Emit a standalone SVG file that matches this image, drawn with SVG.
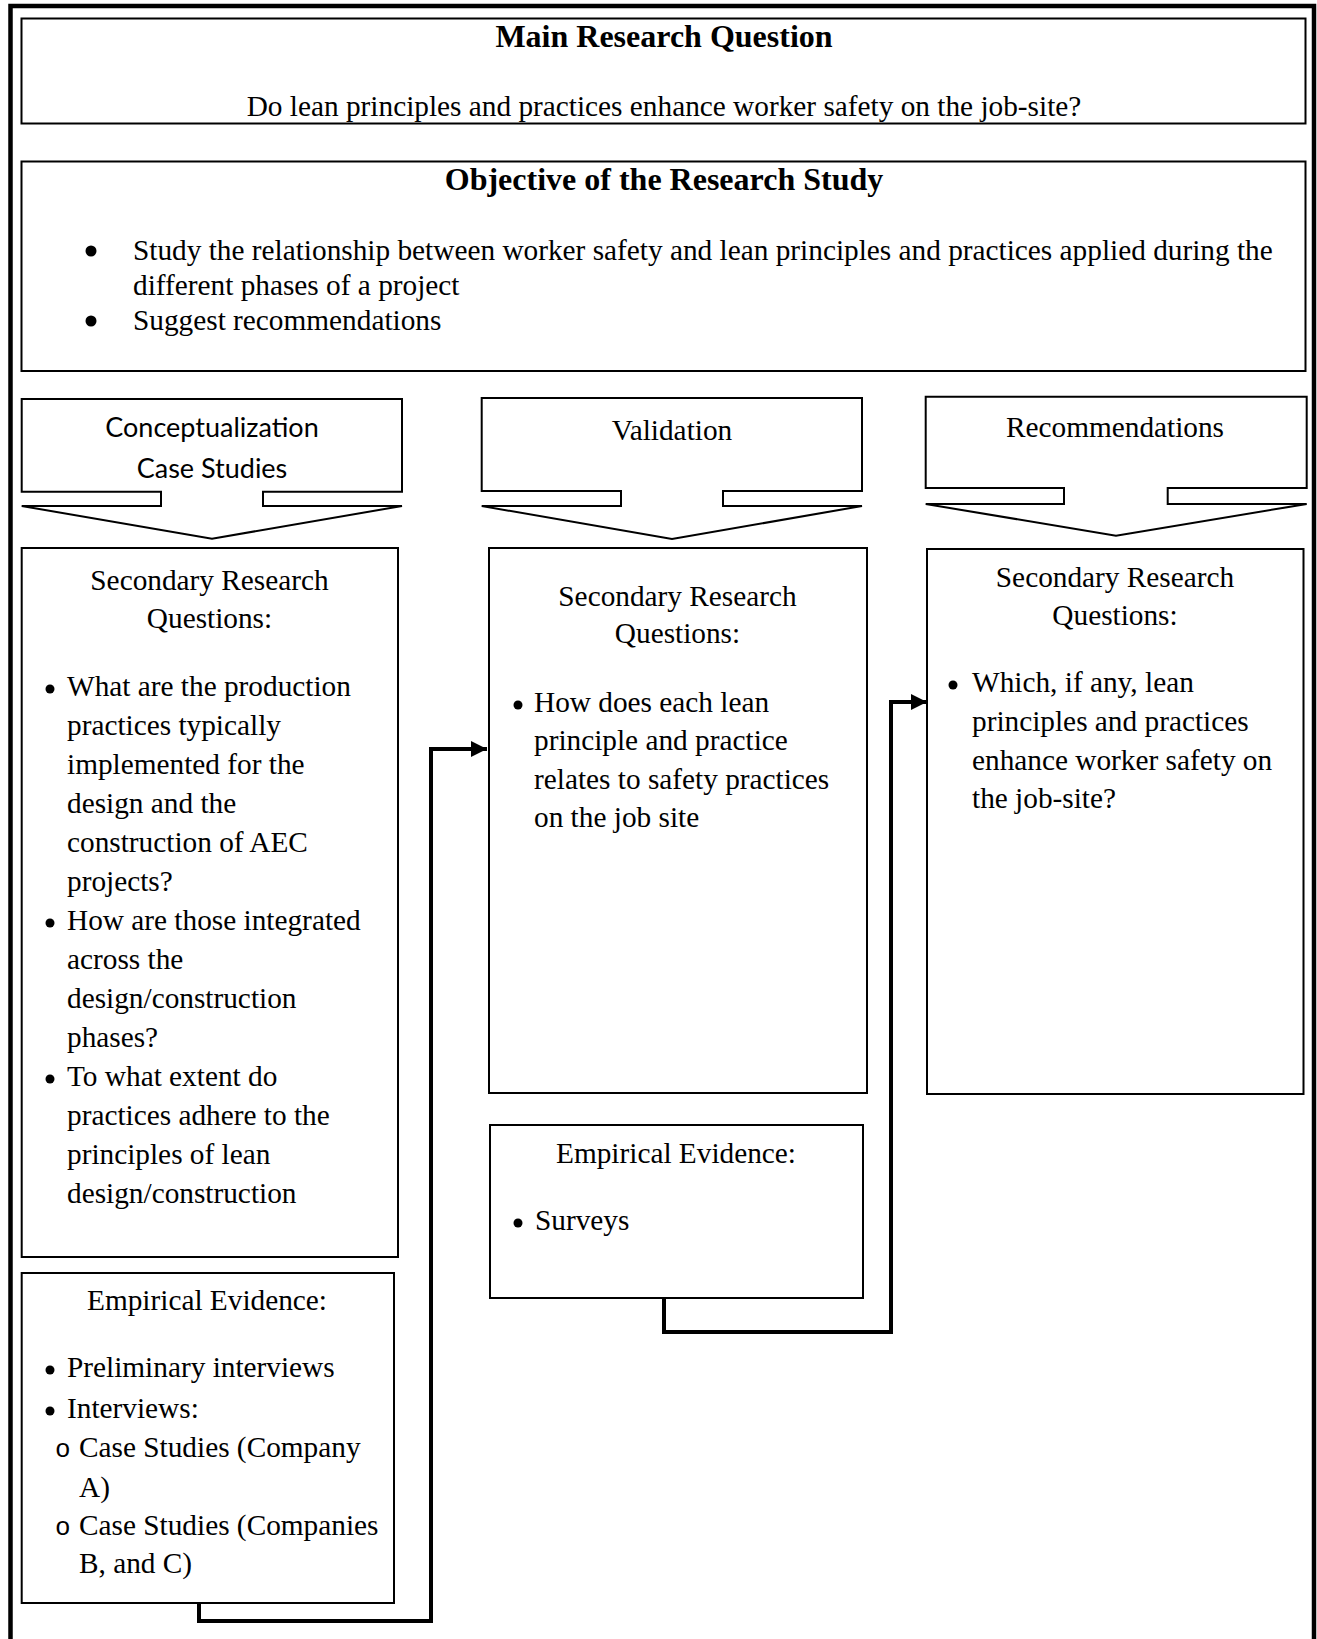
<svg xmlns="http://www.w3.org/2000/svg" width="1317" height="1639" viewBox="0 0 1317 1639">
<style>
  .box { fill: #ffffff; stroke: #000000; stroke-width: 2; }
  .frame { fill: none; stroke: #000000; stroke-width: 4.5; }
  .conn { fill: none; stroke: #000000; stroke-width: 4; stroke-linejoin: miter; }
  .dot { fill: #000000; }
  text { font-family: "Liberation Serif", "Times New Roman", serif; font-size: 29.3px; fill: #000000; }
  .title { font-weight: bold; font-size: 32px; text-anchor: middle; }
  .c { text-anchor: middle; }
  .sans { font-family: Lato, "Liberation Sans", Arial, sans-serif; font-size: 27px; text-anchor: middle; }
  .sub { font-family: "Liberation Mono", "Courier New", monospace; font-size: 26px; }
</style>
<defs>
  <marker id="arrow" markerUnits="userSpaceOnUse" markerWidth="16" markerHeight="16" refX="16" refY="8" orient="auto">
    <path d="M0,0 L16,8 L0,16 Z" fill="#000000"/>
  </marker>
</defs>
<rect x="0" y="0" width="1317" height="1639" fill="#ffffff"/>
<rect class="frame" x="10.5" y="6" width="1303.5" height="1700"/>

<g id="main-question">
  <rect class="box" x="21.5" y="18.5" width="1284" height="105"/>
  <text class="title" x="664" y="47">Main Research Question</text>
  <text class="c" x="664" y="116">Do lean principles and practices enhance worker safety on the job-site?</text>
</g>

<g id="objective">
  <rect class="box" x="21.5" y="161.5" width="1284" height="209.5"/>
  <text class="title" x="664" y="190">Objective of the Research Study</text>
  <circle class="dot" cx="91" cy="251" r="5.5"/>
  <text x="133" y="260">Study the relationship between worker safety and lean principles and practices applied during the</text>
  <text x="133" y="295">different phases of a project</text>
  <circle class="dot" cx="91" cy="321" r="5.5"/>
  <text x="133" y="330">Suggest recommendations</text>
</g>

<g id="callout-conceptualization">
  <path class="box" d="M21.7,399 H402 V491.7 H263 V506 H402 L212,538.7 L21.7,506 H161 V491.7 H21.7 Z"/>
  <text class="sans" x="212" y="437">Conceptualization</text>
  <text class="sans" x="212" y="478">Case Studies</text>
</g>

<g id="callout-validation">
  <path class="box" d="M481.7,398 H862 V491 H723 V506 H862 L672,539 L481.7,506 H621 V491 H481.7 Z"/>
  <text class="c" x="672" y="440">Validation</text>
</g>

<g id="callout-recommendations">
  <path class="box" d="M925.7,396.7 H1306.7 V488 H1167.7 V504 H1306.7 L1116,535.7 L925.7,504 H1064 V488 H925.7 Z"/>
  <text class="c" x="1115" y="437">Recommendations</text>
</g>

<g id="secondary-1">
  <rect class="box" x="21.7" y="548" width="376.3" height="709"/>
  <text class="c" x="209.5" y="590">Secondary Research</text>
  <text class="c" x="209.5" y="628">Questions:</text>
  <circle class="dot" cx="50" cy="689" r="4.5"/>
  <text x="67" y="696">What are the production</text>
  <text x="67" y="735">practices typically</text>
  <text x="67" y="774">implemented for the</text>
  <text x="67" y="813">design and the</text>
  <text x="67" y="852">construction of AEC</text>
  <text x="67" y="891">projects?</text>
  <circle class="dot" cx="50" cy="923" r="4.5"/>
  <text x="67" y="930">How are those integrated</text>
  <text x="67" y="969">across the</text>
  <text x="67" y="1008">design/construction</text>
  <text x="67" y="1047">phases?</text>
  <circle class="dot" cx="50" cy="1079" r="4.5"/>
  <text x="67" y="1086">To what extent do</text>
  <text x="67" y="1125">practices adhere to the</text>
  <text x="67" y="1164">principles of lean</text>
  <text x="67" y="1203">design/construction</text>
</g>

<g id="empirical-1">
  <rect class="box" x="21.7" y="1273" width="372.3" height="330"/>
  <text class="c" x="207" y="1310">Empirical Evidence:</text>
  <circle class="dot" cx="50" cy="1370" r="4.5"/>
  <text x="67" y="1377">Preliminary interviews</text>
  <circle class="dot" cx="50" cy="1411" r="4.5"/>
  <text x="67" y="1418">Interviews:</text>
  <text class="sub" x="55" y="1457">o</text>
  <text x="79" y="1457">Case Studies (Company</text>
  <text x="79" y="1497">A)</text>
  <text class="sub" x="55" y="1535">o</text>
  <text x="79" y="1535">Case Studies (Companies</text>
  <text x="79" y="1573">B, and C)</text>
</g>

<g id="secondary-2">
  <rect class="box" x="489" y="548" width="378" height="545"/>
  <text class="c" x="677.5" y="606">Secondary Research</text>
  <text class="c" x="677.5" y="643">Questions:</text>
  <circle class="dot" cx="518" cy="705" r="4.5"/>
  <text x="534" y="712">How does each lean</text>
  <text x="534" y="750">principle and practice</text>
  <text x="534" y="788.5">relates to safety practices</text>
  <text x="534" y="827">on the job site</text>
</g>

<g id="empirical-2">
  <rect class="box" x="490" y="1125" width="373" height="173"/>
  <text class="c" x="676" y="1163">Empirical Evidence:</text>
  <circle class="dot" cx="518" cy="1223" r="4.5"/>
  <text x="535" y="1230">Surveys</text>
</g>

<g id="secondary-3">
  <rect class="box" x="927" y="549" width="376.5" height="545"/>
  <text class="c" x="1115" y="587">Secondary Research</text>
  <text class="c" x="1115" y="625">Questions:</text>
  <circle class="dot" cx="953" cy="685" r="4.5"/>
  <text x="972" y="692">Which, if any, lean</text>
  <text x="972" y="731">principles and practices</text>
  <text x="972" y="769.5">enhance worker safety on</text>
  <text x="972" y="808">the job-site?</text>
</g>

<g id="connectors">
  <path class="conn" d="M199,1603 V1621 H431 V749 H487" marker-end="url(#arrow)"/>
  <path class="conn" d="M664,1298 V1332 H891 V702 H927" marker-end="url(#arrow)"/>
</g>
</svg>
